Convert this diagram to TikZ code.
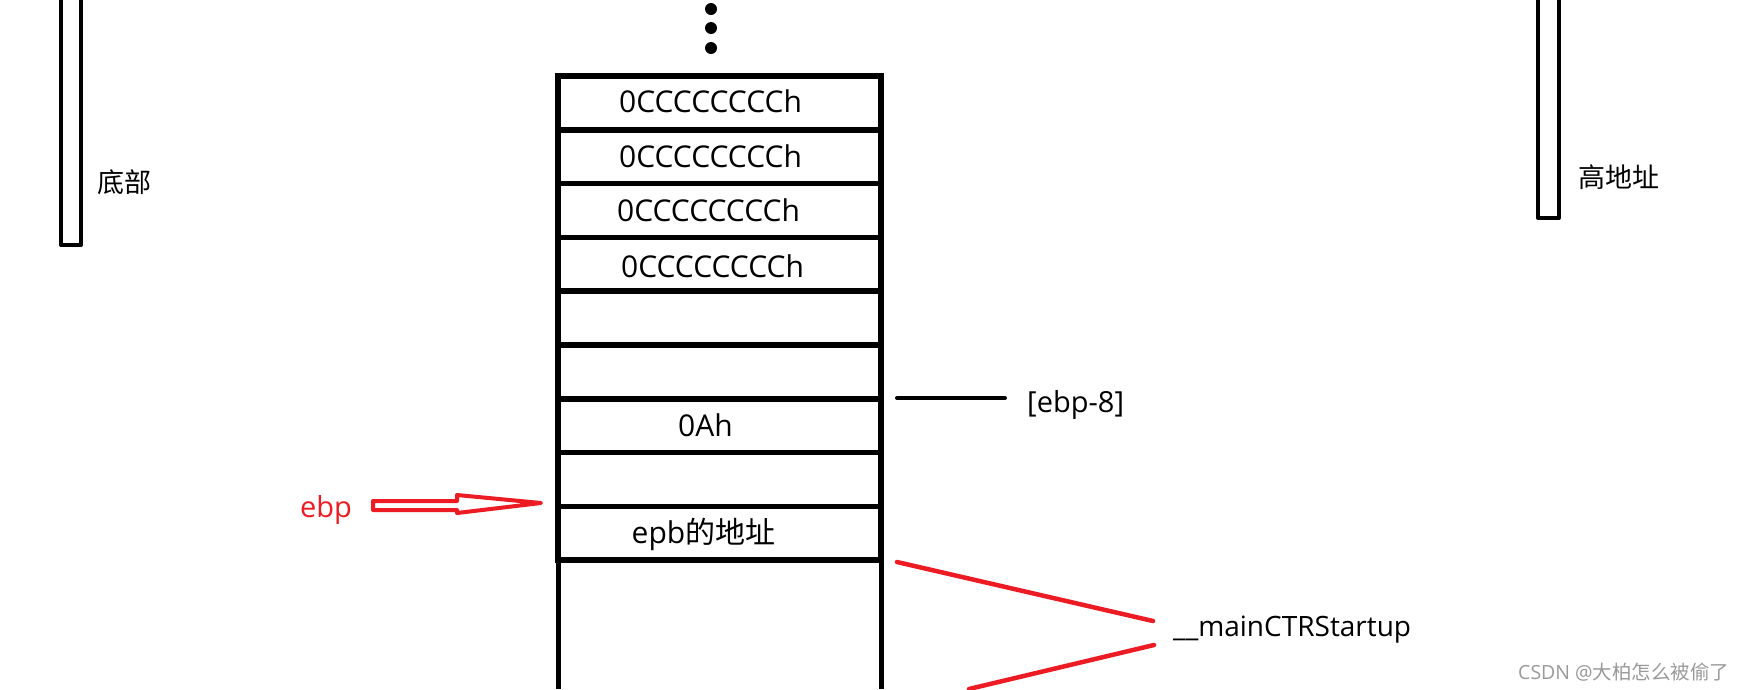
\documentclass[tikz,border=0pt]{standalone}
\usepackage{fontspec}
\setmainfont{Open Sans}
\newfontfamily\cjk{Noto Sans CJK SC}
\definecolor{pred}{HTML}{ED1C24}
\definecolor{wmgray}{HTML}{9A9A9A}
\begin{document}
\begin{tikzpicture}[x=1pt,y=-1pt,
  cell/.style={draw, line width=5.5pt, minimum width=323pt, minimum height=53.8pt,
    inner sep=0pt, outer sep=0pt},
  celltext/.style={inner sep=0pt, text height=20pt, text depth=0pt, font=\fontsize{30}{32}\selectfont},
  lbl/.style={inner sep=0pt, font=\fontsize{29}{31}\selectfont},
  bar/.style={line width=4pt, line join=round},
  redline/.style={pred, line width=4.5pt, line cap=round}]
\useasboundingbox (0,0) rectangle (1741,689);
\fill[white] (0,0) rectangle (1741,689);

% dots
\fill (711,9) circle (6);
\fill (711,28) circle (6);
\fill (711,48) circle (6);

% stack cells
\foreach \i in {1,...,9}{
  \node[cell] (r\i) at (719.5,{76+53.8*(\i-0.5)}) {};
}
\draw[line width=5pt] (r9.south west) -- (r9.south west |- 0,689);
\draw[line width=5pt] (r9.south east) -- (r9.south east |- 0,689);

\node[celltext] (t1) at ([xshift=-9pt]r1.center) {0CCCCCCCCh};
\node[celltext] (t2) at ([xshift=-9pt,yshift=-1pt]r2.center) {0CCCCCCCCh};
\node[celltext] (t3) at ([xshift=-11pt,yshift=-1pt]r3.center) {0CCCCCCCCh};
\node[celltext] (t4) at ([xshift=-7pt,yshift=-3pt]r4.center) {0CCCCCCCCh};
\node[celltext] (t7) at ([xshift=-14pt,yshift=-1pt]r7.center) {0Ah};
\node[celltext] (t9) at ([xshift=-16pt]r9.center) {epb{\cjk 的地址}};

% side bars
\draw[bar] (61,-5) -- (61,245) -- (81,245) -- (81,-5);
\draw[bar] (1538,-5) -- (1538,218) -- (1559,218) -- (1559,-5);
\node[lbl, anchor=west, font=\cjk\fontsize{27}{29}\selectfont] (bottom) at (97,182) {底部};
\node[lbl, anchor=west, font=\cjk\fontsize{27}{29}\selectfont] (high) at (1578,177) {高地址};

% [ebp-8]
\node[lbl, anchor=base west] (ebp8) at (1027,412) {[ebp-8]};
\coordinate (e8a) at (897,398);
\coordinate (e8b) at (1005,398);
\draw[line width=4pt, line cap=round] (e8a) -- (e8b);

% ebp arrow
\node[lbl, anchor=base west, text=pred] (ebp) at (300,517) {ebp};
\coordinate (tip) at (541,503);
\draw[pred, line width=4pt, line join=round]
  (373,501) -- (457,501) -- (457,495) -- (tip) -- (457,513) -- (457,510) -- (373,510) -- cycle;

% __mainCTRStartup
\node[lbl, anchor=base west, font=\fontsize{28}{30}\selectfont] (mcs) at (1173,636) {\_\_mainCTRStartup};
\coordinate (m1) at (897,562);
\coordinate (m2) at (1153,621);
\coordinate (m3) at (1154,645);
\coordinate (m4) at (969,689);
\draw[redline] (m1) -- (m2);
\draw[redline] (m3) -- (m4);

% watermark
\node[lbl, anchor=west, text=wmgray, font=\fontsize{19.5}{21}\selectfont] (wm) at (1518,672) {CSDN @{\cjk 大柏怎么被偷了}};
\end{tikzpicture}
\end{document}
